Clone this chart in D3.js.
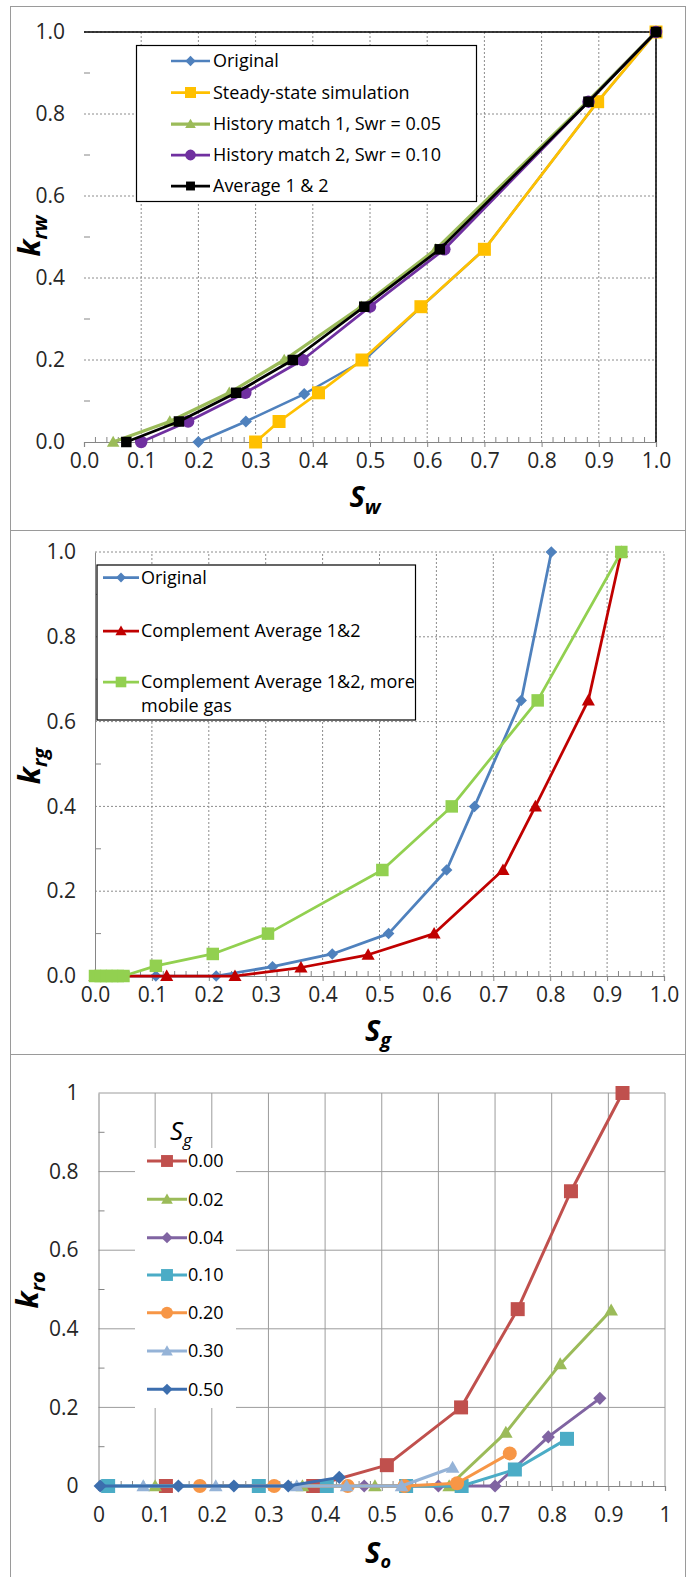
<!DOCTYPE html>
<html>
<head>
<meta charset="utf-8">
<script src="https://cdn.jsdelivr.net/npm/d3@7"></script>
<style>
  body { margin: 0; background: #fff; }
  svg { display: block; font-family: "Open Sans", "Noto Sans", sans-serif; }
</style>
</head>
<body>
<svg id="fig" width="686" height="1577"></svg>
<script>
// ---------- Water relative permeability, krw(Sw) ----------
const swOriginal   = [0.20, 0.283, 0.385, 0.49, 0.59, 0.70, 0.898, 1.0];
const krwOriginal  = [0.00, 0.05, 0.117, 0.20, 0.33, 0.47, 0.83, 1.0];
const swSteady     = [0.30, 0.341, 0.41, 0.486, 0.589, 0.70, 0.898, 1.0];
const krwSteady    = [0.00, 0.05, 0.12, 0.20, 0.33, 0.47, 0.83, 1.0];
const swHist1      = [0.051, 0.15, 0.254, 0.35, 0.485, 0.615, 0.88, 1.0];
const krwHist1     = [0.00, 0.05, 0.12, 0.20, 0.33, 0.47, 0.83, 1.0];
const swHist2      = [0.10, 0.182, 0.282, 0.382, 0.50, 0.63, 0.882, 1.0];
const krwHist2     = [0.00, 0.05, 0.12, 0.20, 0.33, 0.47, 0.83, 1.0];
const swAvg        = [0.074, 0.166, 0.266, 0.365, 0.49, 0.622, 0.882, 1.0];
const krwAvg       = [0.00, 0.05, 0.12, 0.20, 0.33, 0.47, 0.83, 1.0];
const krwNames     = ["Original", "Steady-state simulation", "History match 1, Swr = 0.05",
                      "History match 2, Swr = 0.10", "Average 1 & 2"];

// ---------- Gas relative permeability, krg(Sg) ----------
const sgOriginal   = [0.00, 0.107, 0.213, 0.312, 0.417, 0.516, 0.618, 0.667, 0.749, 0.802];
const krgOriginal  = [0.00, 0.00, 0.00, 0.022, 0.052, 0.10, 0.25, 0.40, 0.65, 1.0];
const sgCompl      = [0.00, 0.126, 0.246, 0.362, 0.48, 0.596, 0.717, 0.774, 0.867, 0.925];
const krgCompl     = [0.00, 0.00, 0.00, 0.02, 0.05, 0.10, 0.25, 0.40, 0.65, 1.0];
const sgMobile     = [0.00, 0.01, 0.02, 0.03, 0.04, 0.05, 0.107, 0.207, 0.304, 0.505, 0.627, 0.778, 0.925];
const krgMobile    = [0.00, 0.00, 0.00, 0.00, 0.00, 0.00, 0.024, 0.052, 0.10, 0.25, 0.40, 0.65, 1.0];
const krgNames     = ["Original", "Complement Average 1&2", ["Complement Average 1&2, more", "mobile gas"]];

// ---------- Oil relative permeability, kro(So) for several Sg ----------
const soSg000  = [0.119, 0.379, 0.509, 0.64, 0.74, 0.834, 0.925];
const kroSg000 = [0.00, 0.00, 0.053, 0.20, 0.45, 0.75, 1.00];
const soSg002  = [0.10, 0.36, 0.488, 0.619, 0.719, 0.815, 0.905];
const kroSg002 = [0.00, 0.00, 0.00, 0.00, 0.136, 0.31, 0.447];
const soSg004  = [0.469, 0.60, 0.70, 0.794, 0.885];
const kroSg004 = [0.00, 0.00, 0.00, 0.125, 0.223];
const soSg010  = [0.017, 0.283, 0.403, 0.543, 0.641, 0.735, 0.827];
const kroSg010 = [0.00, 0.00, 0.00, 0.00, 0.00, 0.042, 0.12];
const soSg020  = [0.179, 0.31, 0.44, 0.54, 0.633, 0.726];
const kroSg020 = [0.00, 0.00, 0.00, 0.00, 0.007, 0.083];
const soSg030  = [0.079, 0.207, 0.35, 0.438, 0.535, 0.625];
const kroSg030 = [0.00, 0.00, 0.00, 0.00, 0.00, 0.047];
const soSg050  = [0.003, 0.141, 0.239, 0.335, 0.425];
const kroSg050 = [0.00, 0.00, 0.00, 0.00, 0.022];
const sgLevels = ["0.00", "0.02", "0.04", "0.10", "0.20", "0.30", "0.50"];

// ---------- Tick labels ----------
const xTicksTenth   = [0, 0.1, 0.2, 0.3, 0.4, 0.5, 0.6, 0.7, 0.8, 0.9, 1.0];
const yTicksFifth   = [0, 0.2, 0.4, 0.6, 0.8, 1.0];
const fmtOneDecimal = d3.format(".1f");
const fmtTrimmed    = v => (v === 0 ? "0" : v === 1 ? "1" : v.toFixed(1));

const svg = d3.select("#fig");

// Excel-style marker outlines, centred on the origin
function markerPath(shape, s) {
  const r = s / 2;
  if (shape === "square") return `M${-r},${-r}H${r}V${r}H${-r}Z`;
  if (shape === "diamond") return `M0,${-r * 1.1}L${r * 1.1},0L0,${r * 1.1}L${-r * 1.1},0Z`;
  if (shape === "triangle") return `M0,${-r * 1.05}L${r * 1.05},${r * 0.8}L${-r * 1.05},${r * 0.8}Z`;
  if (shape === "circle") return d3.symbol(d3.symbolCircle, Math.PI * r * r)();
  return "";
}

function titleText(g, main, sub, opts) {
  const t = g.append("text")
    .attr("font-style", "italic")
    .attr("font-weight", opts.bold ? "bold" : "normal")
    .attr("fill", "#000")
    .attr("font-size", opts.size);
  t.append("tspan").text(main);
  t.append("tspan").attr("font-size", opts.subSize).attr("dy", opts.subDy).text(sub);
  return t;
}

function drawPanel(cfg) {
  const g = svg.append("g");
  // panel frame
  g.append("rect")
    .attr("x", cfg.frame[0]).attr("y", cfg.frame[1])
    .attr("width", cfg.frame[2]).attr("height", cfg.frame[3])
    .attr("fill", "none").attr("stroke", "#9a9a9a").attr("stroke-width", 1);

  const x = d3.scaleLinear().domain([0, 1]).range(cfg.xRange);
  const y = d3.scaleLinear().domain([0, 1]).range(cfg.yRange);

  const gridStroke = cfg.gridSolid ? "#9c9c9c" : "#8c8c8c";
  const gridDash = cfg.gridSolid ? null : "2,2";

  // vertical gridlines at major x ticks
  g.append("g").selectAll("line").data(cfg.xTicks.filter(v => v > 0)).join("line")
    .attr("x1", d => x(d)).attr("x2", d => x(d))
    .attr("y1", y(0)).attr("y2", y(1))
    .attr("stroke", gridStroke).attr("stroke-width", 1).attr("stroke-dasharray", gridDash);
  // horizontal gridlines at major y ticks
  g.append("g").selectAll("line").data(cfg.yTicks.filter(v => v > 0)).join("line")
    .attr("x1", x(0)).attr("x2", x(1))
    .attr("y1", d => y(d)).attr("y2", d => y(d))
    .attr("stroke", gridStroke).attr("stroke-width", 1).attr("stroke-dasharray", gridDash);

  // plot-area border on top and right
  if (cfg.border) {
    g.append("path")
      .attr("d", `M${x(0)},${y(1)}H${x(1)}V${y(0)}`)
      .attr("fill", "none").attr("stroke", "#000").attr("stroke-width", 1.5);
  }

  // y axis: line, inward minor ticks, labels
  const yAxis = d3.axisLeft(y).tickValues(cfg.yTicks).tickFormat(cfg.yFmt).tickSize(0).tickPadding(cfg.yPad);
  const ya = g.append("g").attr("transform", `translate(${x(0)},0)`).call(yAxis);
  ya.select(".domain").attr("stroke", cfg.yAxisLine ? "#868686" : "none");
  ya.selectAll("text").attr("font-size", 21).attr("fill", "#262626")
    .attr("font-family", "\"Open Sans\", sans-serif");
  const yMinor = d3.range(0.1, 1.0, 0.2);
  g.append("g").selectAll("line").data(yMinor).join("line")
    .attr("x1", x(0)).attr("x2", x(0) + 6)
    .attr("y1", d => y(d)).attr("y2", d => y(d))
    .attr("stroke", "#868686").attr("stroke-width", 1);

  // x axis: line at zero, minor ticks upward, major ticks through, labels
  const xAxis = d3.axisBottom(x).tickValues(cfg.xTicks).tickFormat(cfg.xFmt).tickSize(5).tickPadding(cfg.xPad);
  const xa = g.append("g").attr("transform", `translate(0,${y(0)})`).call(xAxis);
  xa.select(".domain").attr("stroke", "#868686").attr("stroke-width", 1.2);
  xa.selectAll(".tick line").attr("stroke", "#868686");
  xa.selectAll("text").attr("font-size", 21).attr("fill", "#262626")
    .attr("font-family", "\"Open Sans\", sans-serif");
  const xMinor = d3.range(0.02, 1.0, 0.02).filter(v => Math.abs(v * 10 - Math.round(v * 10)) > 1e-6);
  g.append("g").selectAll("line").data(xMinor).join("line")
    .attr("x1", d => x(d)).attr("x2", d => x(d))
    .attr("y1", y(0)).attr("y2", y(0) - 5)
    .attr("stroke", "#868686").attr("stroke-width", 1);

  // series lines then markers, in legend order
  const line = d3.line().x(d => x(d[0])).y(d => y(d[1]));
  cfg.series.forEach(s => {
    const pts = s.xs.map((v, i) => [v, s.ys[i]]);
    const sg = g.append("g");
    sg.append("path").datum(pts)
      .attr("d", line).attr("fill", "none")
      .attr("stroke", s.color).attr("stroke-width", s.lw)
      .attr("stroke-linejoin", "round");
    sg.selectAll("path.mk").data(pts).join("path").attr("class", "mk")
      .attr("d", markerPath(s.shape, s.size))
      .attr("transform", d => `translate(${x(d[0])},${y(d[1])})`)
      .attr("fill", s.markerColor || s.color);
  });

  // legend
  const L = cfg.legend;
  const lg = g.append("g");
  if (L.box) {
    lg.append("rect").attr("x", L.box[0]).attr("y", L.box[1])
      .attr("width", L.box[2]).attr("height", L.box[3])
      .attr("fill", "#fff").attr("stroke", L.boxStroke || "none").attr("stroke-width", 1.2);
  }
  if (L.heading) {
    titleText(lg, L.heading[0], L.heading[1], { size: 26, subSize: 17, subDy: 6, bold: false })
      .attr("x", L.heading[2]).attr("y", L.heading[3]);
  }
  cfg.series.forEach((s, i) => {
    const cy = L.rows[i];
    lg.append("line").attr("x1", L.sample[0]).attr("x2", L.sample[1])
      .attr("y1", cy).attr("y2", cy)
      .attr("stroke", s.color).attr("stroke-width", s.lw);
    lg.append("path").attr("d", markerPath(s.shape, s.size * 0.85))
      .attr("transform", `translate(${(L.sample[0] + L.sample[1]) / 2},${cy})`)
      .attr("fill", s.markerColor || s.color);
    const label = Array.isArray(s.name) ? s.name : [s.name];
    label.forEach((txt, k) => {
      lg.append("text").attr("x", L.textX).attr("y", cy + k * L.lineGap)
        .attr("dy", "0.35em").attr("font-size", L.fontSize).attr("fill", "#000").text(txt);
    });
  });

  // axis titles
  titleText(g, cfg.xTitle[0], cfg.xTitle[1], { size: 29, subSize: cfg.xSubSize || 20, subDy: cfg.xSubDy || 7, bold: true })
    .attr("text-anchor", "middle").attr("x", cfg.xTitlePos[0]).attr("y", cfg.xTitlePos[1]);
  titleText(g, cfg.yTitle[0], cfg.yTitle[1], { size: 30, subSize: 20, subDy: 7, bold: true })
    .attr("text-anchor", "middle")
    .attr("transform", `translate(${cfg.yTitlePos[0]},${cfg.yTitlePos[1]}) rotate(-90)`);
}

// ---- Panel 1: krw vs Sw ----
drawPanel({
  frame: [10.5, 6.5, 675, 524],
  xRange: [84, 656], yRange: [442, 32],
  xTicks: xTicksTenth, yTicks: yTicksFifth, xFmt: fmtOneDecimal, yFmt: fmtOneDecimal,
  xPad: 6, yPad: 19, gridSolid: false, border: true, yAxisLine: false,
  series: [
    { name: krwNames[0], xs: swOriginal, ys: krwOriginal, color: "#4F81BD", shape: "diamond", size: 11, lw: 2.5 },
    { name: krwNames[1], xs: swSteady, ys: krwSteady, color: "#FFC000", shape: "square", size: 13, lw: 2.75 },
    { name: krwNames[2], xs: swHist1, ys: krwHist1, color: "#9BBB59", shape: "triangle", size: 12, lw: 3.25 },
    { name: krwNames[3], xs: swHist2, ys: krwHist2, color: "#7030A0", shape: "circle", size: 12.5, lw: 2.75 },
    { name: krwNames[4], xs: swAvg, ys: krwAvg, color: "#000000", shape: "square", size: 10.5, lw: 2.75 }
  ],
  legend: { box: [136.5, 45.5, 340, 156], boxStroke: "#000", rows: [61, 92.5, 124, 155, 186],
            sample: [171, 210], textX: 213, fontSize: 18, lineGap: 23 },
  xTitle: ["S", "w"], xTitlePos: [365, 507],
  yTitle: ["k", "rw"], yTitlePos: [40, 236]
});

// ---- Panel 2: krg vs Sg ----
drawPanel({
  frame: [10.5, 530.5, 675, 524],
  xRange: [95, 664], yRange: [976, 552],
  xTicks: xTicksTenth, yTicks: yTicksFifth, xFmt: fmtOneDecimal, yFmt: fmtOneDecimal,
  xPad: 6, yPad: 19, gridSolid: false, border: false, yAxisLine: true,
  series: [
    { name: krgNames[0], xs: sgOriginal, ys: krgOriginal, color: "#4F81BD", shape: "diamond", size: 10.5, lw: 2.75 },
    { name: krgNames[1], xs: sgCompl, ys: krgCompl, color: "#C00000", shape: "triangle", size: 12.5, lw: 2.75 },
    { name: krgNames[2], xs: sgMobile, ys: krgMobile, color: "#92D050", shape: "square", size: 12.5, lw: 2.75 }
  ],
  legend: { box: [97, 565, 318.5, 155], boxStroke: "#000", rows: [577.5, 631, 682],
            sample: [103, 139], textX: 141, fontSize: 18, lineGap: 23.5 },
  xTitle: ["S", "g"], xTitlePos: [378, 1041], xSubDy: 6,
  yTitle: ["k", "rg"], yTitlePos: [40, 766]
});

// ---- Panel 3: kro vs So ----
drawPanel({
  frame: [10.5, 1054.5, 675, 523],
  xRange: [98.5, 665], yRange: [1486, 1093],
  xTicks: xTicksTenth, yTicks: yTicksFifth, xFmt: fmtTrimmed, yFmt: fmtTrimmed,
  xPad: 16, yPad: 20, gridSolid: true, border: false, yAxisLine: true,
  series: [
    { name: sgLevels[0], xs: soSg000, ys: kroSg000, color: "#C0504D", shape: "square", size: 14, lw: 3 },
    { name: sgLevels[1], xs: soSg002, ys: kroSg002, color: "#9BBB59", shape: "triangle", size: 13, lw: 3 },
    { name: sgLevels[2], xs: soSg004, ys: kroSg004, color: "#8064A2", shape: "diamond", size: 12, lw: 3 },
    { name: sgLevels[3], xs: soSg010, ys: kroSg010, color: "#4BACC6", shape: "square", size: 14, lw: 3 },
    { name: sgLevels[4], xs: soSg020, ys: kroSg020, color: "#F79646", shape: "circle", size: 14, lw: 3 },
    { name: sgLevels[5], xs: soSg030, ys: kroSg030, color: "#95B3D7", shape: "triangle", size: 13, lw: 3 },
    { name: sgLevels[6], xs: soSg050, ys: kroSg050, color: "#3C6EAE", shape: "diamond", size: 12, lw: 3 }
  ],
  legend: { box: [135, 1148, 101, 260], boxStroke: "none",
            heading: ["S", "g", 170, 1140],
            rows: [1161, 1199.3, 1237.7, 1275, 1312.7, 1351, 1389.3],
            sample: [147, 187], textX: 188, fontSize: 18, lineGap: 0 },
  xTitle: ["S", "o"], xTitlePos: [378, 1563], xSubSize: 18, xSubDy: 5,
  yTitle: ["k", "ro"], yTitlePos: [38, 1290]
});
</script>
</body>
</html>
